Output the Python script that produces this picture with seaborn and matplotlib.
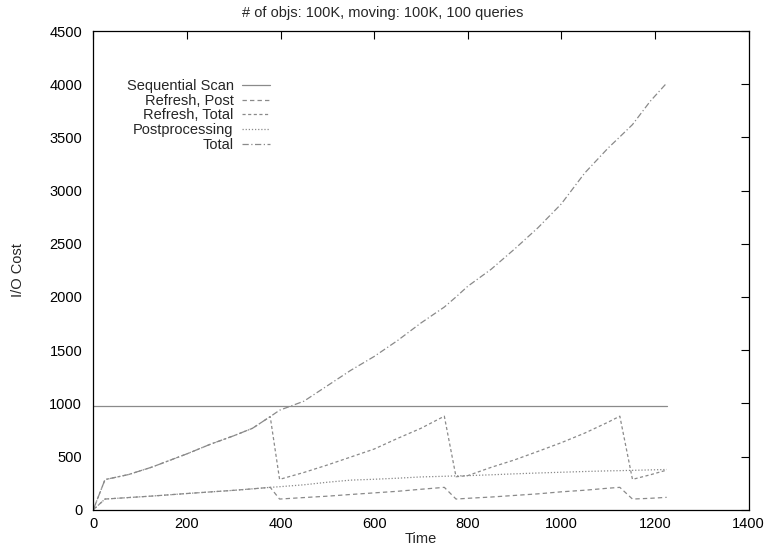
import pandas as pd
import matplotlib
matplotlib.use("Agg")
import matplotlib.pyplot as plt
import seaborn as sns

# data
time = [0, 25, 75, 125, 200, 250, 300, 340, 378, 398, 450, 500, 550, 600, 650,
        700, 750, 775, 800, 850, 900, 950, 1000, 1050, 1100, 1125, 1152, 1190, 1225]
seq_scan = [975] * len(time)
refresh_post = [0, 100, 114, 128, 152, 167, 182, 196, 210, 100, 114, 127, 143, 158, 173,
                192, 210, 100, 107, 119, 134, 149, 168, 183, 202, 210, 100, 107, 116]
refresh_total = [0, 283, 330, 400, 525, 615, 695, 765, 875, 285, 350, 420, 495, 570, 670,
                 765, 879, 310, 320, 398, 468, 548, 630, 720, 823, 879, 285, 328, 372]
postprocessing = [0, 100, 114, 128, 152, 167, 182, 196, 210, 216, 234, 258, 278, 286, 296,
                  308, 314, 318, 320, 328, 337, 345, 352, 359, 365, 367, 370, 374, 378]
total = [0, 283, 330, 400, 525, 615, 695, 765, 875, 935, 1020, 1165, 1310, 1440, 1590,
         1755, 1905, 2000, 2100, 2260, 2450, 2650, 2875, 3165, 3400, 3505, 3620, 3840, 4010]

series = ['Sequential Scan', 'Refresh, Post', 'Refresh, Total', 'Postprocessing', 'Total']
values = [seq_scan, refresh_post, refresh_total, postprocessing, total]

df = pd.concat([pd.DataFrame({'Time': time, 'I/O Cost': v, 'Series': s})
                for s, v in zip(series, values)], ignore_index=True)

sns.set_theme(style='white')
plt.rcParams['font.family'] = ['Liberation Sans', 'DejaVu Sans']
plt.rcParams['font.size'] = 10.5

fig, ax = plt.subplots(figsize=(7.66, 5.46), dpi=100)
fig.subplots_adjust(left=0.1218, right=0.9772, bottom=0.0665, top=0.9432)

dashes = {
    'Sequential Scan': '',
    'Refresh, Post': (3.5, 2.5),
    'Refresh, Total': (2.5, 2.0),
    'Postprocessing': (1.0, 1.5),
    'Total': (5.0, 2.0, 1.0, 2.0),
}
palette = {s: '#8a8a8a' for s in series}

sns.lineplot(data=df, x='Time', y='I/O Cost', hue='Series', style='Series',
             hue_order=series, style_order=series, palette=palette, dashes=dashes,
             estimator=None, linewidth=0.9, ax=ax)

ax.set_xlim(0, 1400)
ax.set_ylim(0, 4500)
ax.set_xticks(range(0, 1401, 200))
ax.set_yticks(range(0, 4501, 500))
ax.tick_params(direction='in', top=True, right=True, length=6, width=0.8,
               colors='black', labelsize=10.5)
ax.tick_params(axis='y', pad=8)
ax.tick_params(axis='x', pad=5)
for sp in ax.spines.values():
    sp.set_color('black')
    sp.set_linewidth(0.9)

ax.set_xlabel('Time', fontsize=10.5)
ax.set_ylabel('I/O Cost', fontsize=10.5)
ax.xaxis.set_label_coords(0.5, -0.047)
ax.yaxis.set_label_coords(-0.104, 0.5)

fig.suptitle('# of objs: 100K, moving: 100K, 100 queries', x=0.5, y=0.976,
             va='center', fontsize=10.5)

handles, labels = ax.get_legend_handles_labels()
ax.legend(handles, labels, loc='upper right', bbox_to_anchor=(0.2697, 0.90),
          frameon=False, markerfirst=False, borderpad=0, borderaxespad=0,
          handlelength=1.9, handletextpad=0.6, labelspacing=0.05, fontsize=10.5)

fig.savefig('out.png', dpi=100)
